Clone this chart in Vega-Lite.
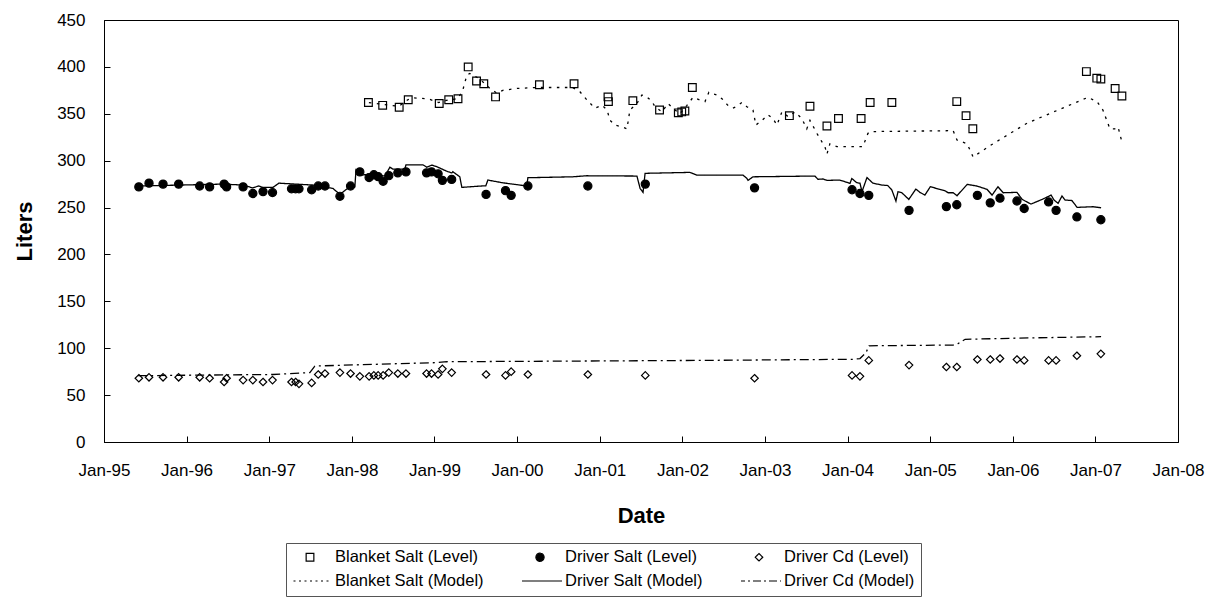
{
  "$schema": "https://vega.github.io/schema/vega-lite/v6.json",
  "width": 1074,
  "height": 422,
  "autosize": "none",
  "padding": {"left": 104, "top": 20, "right": 38, "bottom": 160},
  "background": "white",
  "config": {
    "font": "Liberation Sans",
    "view": {"stroke": "black", "strokeWidth": 1},
    "axis": {
      "grid": false,
      "domainColor": "black",
      "domainWidth": 1,
      "tickColor": "black",
      "tickWidth": 1,
      "tickSize": -6,
      "labelColor": "black",
      "labelFont": "Liberation Sans",
      "labelFontSize": 17,
      "titleFont": "Liberation Sans",
      "titleFontSize": 22,
      "titleFontWeight": "bold",
      "titleColor": "black"
    },
    "legend": {
      "title": null,
      "orient": "none",
      "legendX": 182,
      "legendY": 523,
      "direction": "horizontal",
      "columns": 3,
      "gridAlign": "each",
      "columnPadding": 38,
      "rowPadding": 7,
      "clipHeight": 16,
      "padding": 6,
      "strokeColor": "#555555",
      "fillColor": "white",
      "symbolSize": 1936,
      "symbolStrokeColor": "black",
      "symbolStrokeWidth": 1.2,
      "symbolOffset": -5,
      "labelOffset": 2,
      "labelFont": "Liberation Sans",
      "labelFontSize": 16.5,
      "labelColor": "black"
    }
  },
  "datasets": {
    "levels": [
      {"level": "Blanket Salt (Level)", "date": "1998-03-15", "liters": 362},
      {"level": "Blanket Salt (Level)", "date": "1998-05-17", "liters": 359},
      {"level": "Blanket Salt (Level)", "date": "1998-07-29", "liters": 357},
      {"level": "Blanket Salt (Level)", "date": "1998-09-07", "liters": 365},
      {"level": "Blanket Salt (Level)", "date": "1999-01-22", "liters": 361},
      {"level": "Blanket Salt (Level)", "date": "1999-03-05", "liters": 365},
      {"level": "Blanket Salt (Level)", "date": "1999-04-15", "liters": 366},
      {"level": "Blanket Salt (Level)", "date": "1999-05-30", "liters": 400},
      {"level": "Blanket Salt (Level)", "date": "1999-07-06", "liters": 385},
      {"level": "Blanket Salt (Level)", "date": "1999-08-07", "liters": 382},
      {"level": "Blanket Salt (Level)", "date": "1999-09-28", "liters": 368},
      {"level": "Blanket Salt (Level)", "date": "2000-04-09", "liters": 381},
      {"level": "Blanket Salt (Level)", "date": "2000-09-09", "liters": 382},
      {"level": "Blanket Salt (Level)", "date": "2001-02-06", "liters": 368},
      {"level": "Blanket Salt (Level)", "date": "2001-02-08", "liters": 363},
      {"level": "Blanket Salt (Level)", "date": "2001-05-27", "liters": 364},
      {"level": "Blanket Salt (Level)", "date": "2001-09-22", "liters": 354},
      {"level": "Blanket Salt (Level)", "date": "2001-12-14", "liters": 351},
      {"level": "Blanket Salt (Level)", "date": "2001-12-29", "liters": 352},
      {"level": "Blanket Salt (Level)", "date": "2002-01-12", "liters": 353},
      {"level": "Blanket Salt (Level)", "date": "2002-02-14", "liters": 378},
      {"level": "Blanket Salt (Level)", "date": "2003-04-19", "liters": 348},
      {"level": "Blanket Salt (Level)", "date": "2003-07-19", "liters": 358},
      {"level": "Blanket Salt (Level)", "date": "2003-10-02", "liters": 337},
      {"level": "Blanket Salt (Level)", "date": "2003-11-22", "liters": 345},
      {"level": "Blanket Salt (Level)", "date": "2004-03-01", "liters": 345},
      {"level": "Blanket Salt (Level)", "date": "2004-04-10", "liters": 362},
      {"level": "Blanket Salt (Level)", "date": "2004-07-15", "liters": 362},
      {"level": "Blanket Salt (Level)", "date": "2005-04-28", "liters": 363},
      {"level": "Blanket Salt (Level)", "date": "2005-06-08", "liters": 348},
      {"level": "Blanket Salt (Level)", "date": "2005-07-08", "liters": 334},
      {"level": "Blanket Salt (Level)", "date": "2006-11-22", "liters": 395},
      {"level": "Blanket Salt (Level)", "date": "2007-01-07", "liters": 388},
      {"level": "Blanket Salt (Level)", "date": "2007-01-25", "liters": 387},
      {"level": "Blanket Salt (Level)", "date": "2007-03-29", "liters": 377},
      {"level": "Blanket Salt (Level)", "date": "2007-04-28", "liters": 369},

      {"level": "Driver Salt (Level)", "date": "1995-06-04", "liters": 272},
      {"level": "Driver Salt (Level)", "date": "1995-07-19", "liters": 276},
      {"level": "Driver Salt (Level)", "date": "1995-09-19", "liters": 275},
      {"level": "Driver Salt (Level)", "date": "1995-11-27", "liters": 275},
      {"level": "Driver Salt (Level)", "date": "1996-02-28", "liters": 273},
      {"level": "Driver Salt (Level)", "date": "1996-04-12", "liters": 272},
      {"level": "Driver Salt (Level)", "date": "1996-06-15", "liters": 275},
      {"level": "Driver Salt (Level)", "date": "1996-06-26", "liters": 272},
      {"level": "Driver Salt (Level)", "date": "1996-09-07", "liters": 272},
      {"level": "Driver Salt (Level)", "date": "1996-10-20", "liters": 265},
      {"level": "Driver Salt (Level)", "date": "1996-12-04", "liters": 267},
      {"level": "Driver Salt (Level)", "date": "1997-01-15", "liters": 266},
      {"level": "Driver Salt (Level)", "date": "1997-04-09", "liters": 270},
      {"level": "Driver Salt (Level)", "date": "1997-04-27", "liters": 270},
      {"level": "Driver Salt (Level)", "date": "1997-05-12", "liters": 270},
      {"level": "Driver Salt (Level)", "date": "1997-07-07", "liters": 269},
      {"level": "Driver Salt (Level)", "date": "1997-08-05", "liters": 273},
      {"level": "Driver Salt (Level)", "date": "1997-09-04", "liters": 273},
      {"level": "Driver Salt (Level)", "date": "1997-11-09", "liters": 262},
      {"level": "Driver Salt (Level)", "date": "1997-12-26", "liters": 273},
      {"level": "Driver Salt (Level)", "date": "1998-02-05", "liters": 288},
      {"level": "Driver Salt (Level)", "date": "1998-03-18", "liters": 282},
      {"level": "Driver Salt (Level)", "date": "1998-04-08", "liters": 285},
      {"level": "Driver Salt (Level)", "date": "1998-04-27", "liters": 283},
      {"level": "Driver Salt (Level)", "date": "1998-05-19", "liters": 278},
      {"level": "Driver Salt (Level)", "date": "1998-06-13", "liters": 284},
      {"level": "Driver Salt (Level)", "date": "1998-07-23", "liters": 287},
      {"level": "Driver Salt (Level)", "date": "1998-08-28", "liters": 288},
      {"level": "Driver Salt (Level)", "date": "1998-11-27", "liters": 287},
      {"level": "Driver Salt (Level)", "date": "1998-12-19", "liters": 288},
      {"level": "Driver Salt (Level)", "date": "1999-01-17", "liters": 286},
      {"level": "Driver Salt (Level)", "date": "1999-02-05", "liters": 279},
      {"level": "Driver Salt (Level)", "date": "1999-03-18", "liters": 280},
      {"level": "Driver Salt (Level)", "date": "1999-08-17", "liters": 264},
      {"level": "Driver Salt (Level)", "date": "1999-11-11", "liters": 268},
      {"level": "Driver Salt (Level)", "date": "1999-12-06", "liters": 263},
      {"level": "Driver Salt (Level)", "date": "2000-02-18", "liters": 273},
      {"level": "Driver Salt (Level)", "date": "2000-11-09", "liters": 273},
      {"level": "Driver Salt (Level)", "date": "2001-07-21", "liters": 275},
      {"level": "Driver Salt (Level)", "date": "2002-11-16", "liters": 271},
      {"level": "Driver Salt (Level)", "date": "2004-01-21", "liters": 269},
      {"level": "Driver Salt (Level)", "date": "2004-02-25", "liters": 265},
      {"level": "Driver Salt (Level)", "date": "2004-04-04", "liters": 263},
      {"level": "Driver Salt (Level)", "date": "2004-09-29", "liters": 247},
      {"level": "Driver Salt (Level)", "date": "2005-03-13", "liters": 251},
      {"level": "Driver Salt (Level)", "date": "2005-04-28", "liters": 253},
      {"level": "Driver Salt (Level)", "date": "2005-07-28", "liters": 263},
      {"level": "Driver Salt (Level)", "date": "2005-09-23", "liters": 255},
      {"level": "Driver Salt (Level)", "date": "2005-11-05", "liters": 260},
      {"level": "Driver Salt (Level)", "date": "2006-01-19", "liters": 257},
      {"level": "Driver Salt (Level)", "date": "2006-02-20", "liters": 249},
      {"level": "Driver Salt (Level)", "date": "2006-06-08", "liters": 256},
      {"level": "Driver Salt (Level)", "date": "2006-07-11", "liters": 247},
      {"level": "Driver Salt (Level)", "date": "2006-10-11", "liters": 240},
      {"level": "Driver Salt (Level)", "date": "2007-01-25", "liters": 237},

      {"level": "Driver Cd (Level)", "date": "1995-06-04", "liters": 68},
      {"level": "Driver Cd (Level)", "date": "1995-07-19", "liters": 69},
      {"level": "Driver Cd (Level)", "date": "1995-09-19", "liters": 69},
      {"level": "Driver Cd (Level)", "date": "1995-11-27", "liters": 69},
      {"level": "Driver Cd (Level)", "date": "1996-02-28", "liters": 69},
      {"level": "Driver Cd (Level)", "date": "1996-04-12", "liters": 68},
      {"level": "Driver Cd (Level)", "date": "1996-06-15", "liters": 64},
      {"level": "Driver Cd (Level)", "date": "1996-06-26", "liters": 68},
      {"level": "Driver Cd (Level)", "date": "1996-09-07", "liters": 66},
      {"level": "Driver Cd (Level)", "date": "1996-10-20", "liters": 66},
      {"level": "Driver Cd (Level)", "date": "1996-12-04", "liters": 64},
      {"level": "Driver Cd (Level)", "date": "1997-01-15", "liters": 66},
      {"level": "Driver Cd (Level)", "date": "1997-04-09", "liters": 64},
      {"level": "Driver Cd (Level)", "date": "1997-04-27", "liters": 64},
      {"level": "Driver Cd (Level)", "date": "1997-05-12", "liters": 62},
      {"level": "Driver Cd (Level)", "date": "1997-07-07", "liters": 63},
      {"level": "Driver Cd (Level)", "date": "1997-08-05", "liters": 72},
      {"level": "Driver Cd (Level)", "date": "1997-09-04", "liters": 73},
      {"level": "Driver Cd (Level)", "date": "1997-11-09", "liters": 74},
      {"level": "Driver Cd (Level)", "date": "1997-12-26", "liters": 73},
      {"level": "Driver Cd (Level)", "date": "1998-02-05", "liters": 70},
      {"level": "Driver Cd (Level)", "date": "1998-03-18", "liters": 70},
      {"level": "Driver Cd (Level)", "date": "1998-04-08", "liters": 71},
      {"level": "Driver Cd (Level)", "date": "1998-04-27", "liters": 71},
      {"level": "Driver Cd (Level)", "date": "1998-05-19", "liters": 71},
      {"level": "Driver Cd (Level)", "date": "1998-06-13", "liters": 74},
      {"level": "Driver Cd (Level)", "date": "1998-07-23", "liters": 73},
      {"level": "Driver Cd (Level)", "date": "1998-08-28", "liters": 73},
      {"level": "Driver Cd (Level)", "date": "1998-11-27", "liters": 73},
      {"level": "Driver Cd (Level)", "date": "1998-12-19", "liters": 73},
      {"level": "Driver Cd (Level)", "date": "1999-01-17", "liters": 72},
      {"level": "Driver Cd (Level)", "date": "1999-02-05", "liters": 78},
      {"level": "Driver Cd (Level)", "date": "1999-03-18", "liters": 74},
      {"level": "Driver Cd (Level)", "date": "1999-08-17", "liters": 72},
      {"level": "Driver Cd (Level)", "date": "1999-11-11", "liters": 71},
      {"level": "Driver Cd (Level)", "date": "1999-12-06", "liters": 75},
      {"level": "Driver Cd (Level)", "date": "2000-02-18", "liters": 72},
      {"level": "Driver Cd (Level)", "date": "2000-11-09", "liters": 72},
      {"level": "Driver Cd (Level)", "date": "2001-07-21", "liters": 71},
      {"level": "Driver Cd (Level)", "date": "2002-11-16", "liters": 68},
      {"level": "Driver Cd (Level)", "date": "2004-01-21", "liters": 71},
      {"level": "Driver Cd (Level)", "date": "2004-02-25", "liters": 70},
      {"level": "Driver Cd (Level)", "date": "2004-04-04", "liters": 87},
      {"level": "Driver Cd (Level)", "date": "2004-09-29", "liters": 82},
      {"level": "Driver Cd (Level)", "date": "2005-03-13", "liters": 80},
      {"level": "Driver Cd (Level)", "date": "2005-04-28", "liters": 80},
      {"level": "Driver Cd (Level)", "date": "2005-07-28", "liters": 88},
      {"level": "Driver Cd (Level)", "date": "2005-09-23", "liters": 88},
      {"level": "Driver Cd (Level)", "date": "2005-11-05", "liters": 89},
      {"level": "Driver Cd (Level)", "date": "2006-01-19", "liters": 88},
      {"level": "Driver Cd (Level)", "date": "2006-02-20", "liters": 87},
      {"level": "Driver Cd (Level)", "date": "2006-06-08", "liters": 87},
      {"level": "Driver Cd (Level)", "date": "2006-07-11", "liters": 87},
      {"level": "Driver Cd (Level)", "date": "2006-10-11", "liters": 92},
      {"level": "Driver Cd (Level)", "date": "2007-01-25", "liters": 94}
    ],
    "model": [
      {"model": "Blanket Salt (Model)", "date": "1998-03-17", "liters": 362},
      {"model": "Blanket Salt (Model)", "date": "1998-05-18", "liters": 360},
      {"model": "Blanket Salt (Model)", "date": "1998-07-28", "liters": 358},
      {"model": "Blanket Salt (Model)", "date": "1998-09-05", "liters": 365},
      {"model": "Blanket Salt (Model)", "date": "1998-09-27", "liters": 367},
      {"model": "Blanket Salt (Model)", "date": "1998-12-03", "liters": 366},
      {"model": "Blanket Salt (Model)", "date": "1999-01-20", "liters": 362},
      {"model": "Blanket Salt (Model)", "date": "1999-03-06", "liters": 365},
      {"model": "Blanket Salt (Model)", "date": "1999-04-14", "liters": 366},
      {"model": "Blanket Salt (Model)", "date": "1999-05-06", "liters": 375},
      {"model": "Blanket Salt (Model)", "date": "1999-05-24", "liters": 391},
      {"model": "Blanket Salt (Model)", "date": "1999-06-06", "liters": 393},
      {"model": "Blanket Salt (Model)", "date": "1999-07-07", "liters": 389},
      {"model": "Blanket Salt (Model)", "date": "1999-08-03", "liters": 384},
      {"model": "Blanket Salt (Model)", "date": "1999-09-03", "liters": 377},
      {"model": "Blanket Salt (Model)", "date": "1999-10-04", "liters": 372},
      {"model": "Blanket Salt (Model)", "date": "1999-10-30", "liters": 375},
      {"model": "Blanket Salt (Model)", "date": "2000-01-01", "liters": 377},
      {"model": "Blanket Salt (Model)", "date": "2000-03-28", "liters": 378},
      {"model": "Blanket Salt (Model)", "date": "2000-09-03", "liters": 378},
      {"model": "Blanket Salt (Model)", "date": "2000-10-05", "liters": 373.5},
      {"model": "Blanket Salt (Model)", "date": "2000-11-04", "liters": 365},
      {"model": "Blanket Salt (Model)", "date": "2000-12-10", "liters": 356},
      {"model": "Blanket Salt (Model)", "date": "2001-01-11", "liters": 359},
      {"model": "Blanket Salt (Model)", "date": "2001-02-02", "liters": 354},
      {"model": "Blanket Salt (Model)", "date": "2001-02-15", "liters": 343},
      {"model": "Blanket Salt (Model)", "date": "2001-03-09", "liters": 338},
      {"model": "Blanket Salt (Model)", "date": "2001-04-09", "liters": 336},
      {"model": "Blanket Salt (Model)", "date": "2001-05-01", "liters": 334},
      {"model": "Blanket Salt (Model)", "date": "2001-05-14", "liters": 354},
      {"model": "Blanket Salt (Model)", "date": "2001-06-14", "liters": 361},
      {"model": "Blanket Salt (Model)", "date": "2001-07-06", "liters": 370},
      {"model": "Blanket Salt (Model)", "date": "2001-07-28", "liters": 368},
      {"model": "Blanket Salt (Model)", "date": "2001-08-20", "liters": 363},
      {"model": "Blanket Salt (Model)", "date": "2001-09-02", "liters": 357.5},
      {"model": "Blanket Salt (Model)", "date": "2001-10-03", "liters": 352},
      {"model": "Blanket Salt (Model)", "date": "2001-10-29", "liters": 361},
      {"model": "Blanket Salt (Model)", "date": "2001-11-20", "liters": 356},
      {"model": "Blanket Salt (Model)", "date": "2001-12-21", "liters": 350},
      {"model": "Blanket Salt (Model)", "date": "2002-01-21", "liters": 359},
      {"model": "Blanket Salt (Model)", "date": "2002-02-17", "liters": 367.5},
      {"model": "Blanket Salt (Model)", "date": "2002-03-20", "liters": 364.6},
      {"model": "Blanket Salt (Model)", "date": "2002-04-11", "liters": 363},
      {"model": "Blanket Salt (Model)", "date": "2002-04-28", "liters": 373},
      {"model": "Blanket Salt (Model)", "date": "2002-06-03", "liters": 370},
      {"model": "Blanket Salt (Model)", "date": "2002-06-25", "liters": 366},
      {"model": "Blanket Salt (Model)", "date": "2002-07-21", "liters": 359},
      {"model": "Blanket Salt (Model)", "date": "2002-08-12", "liters": 356},
      {"model": "Blanket Salt (Model)", "date": "2002-08-30", "liters": 358},
      {"model": "Blanket Salt (Model)", "date": "2002-09-21", "liters": 362},
      {"model": "Blanket Salt (Model)", "date": "2002-10-13", "liters": 357.5},
      {"model": "Blanket Salt (Model)", "date": "2002-11-09", "liters": 354},
      {"model": "Blanket Salt (Model)", "date": "2002-11-22", "liters": 338},
      {"model": "Blanket Salt (Model)", "date": "2002-12-19", "liters": 343},
      {"model": "Blanket Salt (Model)", "date": "2003-01-14", "liters": 349},
      {"model": "Blanket Salt (Model)", "date": "2003-02-05", "liters": 345},
      {"model": "Blanket Salt (Model)", "date": "2003-02-23", "liters": 338},
      {"model": "Blanket Salt (Model)", "date": "2003-03-17", "liters": 352},
      {"model": "Blanket Salt (Model)", "date": "2003-04-13", "liters": 347},
      {"model": "Blanket Salt (Model)", "date": "2003-05-14", "liters": 352},
      {"model": "Blanket Salt (Model)", "date": "2003-06-13", "liters": 345},
      {"model": "Blanket Salt (Model)", "date": "2003-07-05", "liters": 334},
      {"model": "Blanket Salt (Model)", "date": "2003-07-19", "liters": 343},
      {"model": "Blanket Salt (Model)", "date": "2003-08-19", "liters": 329},
      {"model": "Blanket Salt (Model)", "date": "2003-09-10", "liters": 320},
      {"model": "Blanket Salt (Model)", "date": "2003-09-23", "liters": 315},
      {"model": "Blanket Salt (Model)", "date": "2003-10-02", "liters": 307},
      {"model": "Blanket Salt (Model)", "date": "2003-10-15", "liters": 318},
      {"model": "Blanket Salt (Model)", "date": "2003-11-15", "liters": 315},
      {"model": "Blanket Salt (Model)", "date": "2004-03-09", "liters": 315},
      {"model": "Blanket Salt (Model)", "date": "2004-03-31", "liters": 329},
      {"model": "Blanket Salt (Model)", "date": "2004-04-09", "liters": 331},
      {"model": "Blanket Salt (Model)", "date": "2005-04-12", "liters": 332},
      {"model": "Blanket Salt (Model)", "date": "2005-04-29", "liters": 322},
      {"model": "Blanket Salt (Model)", "date": "2005-06-13", "liters": 318},
      {"model": "Blanket Salt (Model)", "date": "2005-07-09", "liters": 304},
      {"model": "Blanket Salt (Model)", "date": "2005-10-05", "liters": 318},
      {"model": "Blanket Salt (Model)", "date": "2006-03-05", "liters": 340},
      {"model": "Blanket Salt (Model)", "date": "2006-11-29", "liters": 367.5},
      {"model": "Blanket Salt (Model)", "date": "2007-01-08", "liters": 363},
      {"model": "Blanket Salt (Model)", "date": "2007-02-03", "liters": 354},
      {"model": "Blanket Salt (Model)", "date": "2007-03-06", "liters": 334},
      {"model": "Blanket Salt (Model)", "date": "2007-03-28", "liters": 334},
      {"model": "Blanket Salt (Model)", "date": "2007-04-11", "liters": 336},
      {"model": "Blanket Salt (Model)", "date": "2007-04-28", "liters": 320},

      {"model": "Driver Salt (Model)", "date": "1995-06-04", "liters": 273},
      {"model": "Driver Salt (Model)", "date": "1996-06-09", "liters": 275},
      {"model": "Driver Salt (Model)", "date": "1996-09-05", "liters": 274},
      {"model": "Driver Salt (Model)", "date": "1996-10-19", "liters": 271},
      {"model": "Driver Salt (Model)", "date": "1996-11-15", "liters": 273},
      {"model": "Driver Salt (Model)", "date": "1996-12-03", "liters": 271.5},
      {"model": "Driver Salt (Model)", "date": "1997-01-17", "liters": 271.5},
      {"model": "Driver Salt (Model)", "date": "1997-02-12", "liters": 276},
      {"model": "Driver Salt (Model)", "date": "1997-07-13", "liters": 274},
      {"model": "Driver Salt (Model)", "date": "1997-10-09", "liters": 270.4},
      {"model": "Driver Salt (Model)", "date": "1997-11-09", "liters": 264},
      {"model": "Driver Salt (Model)", "date": "1997-12-10", "liters": 270},
      {"model": "Driver Salt (Model)", "date": "1998-01-14", "liters": 272},
      {"model": "Driver Salt (Model)", "date": "1998-01-19", "liters": 290},
      {"model": "Driver Salt (Model)", "date": "1998-02-05", "liters": 284.6},
      {"model": "Driver Salt (Model)", "date": "1998-04-04", "liters": 285.7},
      {"model": "Driver Salt (Model)", "date": "1998-05-27", "liters": 283.6},
      {"model": "Driver Salt (Model)", "date": "1998-06-18", "liters": 293},
      {"model": "Driver Salt (Model)", "date": "1998-07-01", "liters": 291},
      {"model": "Driver Salt (Model)", "date": "1998-08-23", "liters": 291},
      {"model": "Driver Salt (Model)", "date": "1998-08-28", "liters": 295.6},
      {"model": "Driver Salt (Model)", "date": "1998-11-11", "liters": 295.6},
      {"model": "Driver Salt (Model)", "date": "1998-11-28", "liters": 293},
      {"model": "Driver Salt (Model)", "date": "1998-12-20", "liters": 295.3},
      {"model": "Driver Salt (Model)", "date": "1999-01-12", "liters": 293.5},
      {"model": "Driver Salt (Model)", "date": "1999-03-01", "liters": 288.2},
      {"model": "Driver Salt (Model)", "date": "1999-03-19", "liters": 287},
      {"model": "Driver Salt (Model)", "date": "1999-03-23", "liters": 288.2},
      {"model": "Driver Salt (Model)", "date": "1999-04-23", "liters": 282.8},
      {"model": "Driver Salt (Model)", "date": "1999-05-02", "liters": 271.5},
      {"model": "Driver Salt (Model)", "date": "1999-07-20", "liters": 272.9},
      {"model": "Driver Salt (Model)", "date": "1999-08-16", "liters": 273.2},
      {"model": "Driver Salt (Model)", "date": "1999-08-25", "liters": 279.3},
      {"model": "Driver Salt (Model)", "date": "1999-10-30", "liters": 276.4},
      {"model": "Driver Salt (Model)", "date": "2000-01-13", "liters": 274},
      {"model": "Driver Salt (Model)", "date": "2000-02-13", "liters": 273},
      {"model": "Driver Salt (Model)", "date": "2000-02-18", "liters": 281.8},
      {"model": "Driver Salt (Model)", "date": "2000-09-03", "liters": 282.8},
      {"model": "Driver Salt (Model)", "date": "2000-11-04", "liters": 283.9},
      {"model": "Driver Salt (Model)", "date": "2001-06-14", "liters": 283.6},
      {"model": "Driver Salt (Model)", "date": "2001-06-28", "liters": 270.4},
      {"model": "Driver Salt (Model)", "date": "2001-07-11", "liters": 266.2},
      {"model": "Driver Salt (Model)", "date": "2001-07-20", "liters": 286.5},
      {"model": "Driver Salt (Model)", "date": "2002-02-03", "liters": 287.5},
      {"model": "Driver Salt (Model)", "date": "2002-03-06", "liters": 284.6},
      {"model": "Driver Salt (Model)", "date": "2002-09-26", "liters": 284.6},
      {"model": "Driver Salt (Model)", "date": "2002-10-13", "liters": 281.1},
      {"model": "Driver Salt (Model)", "date": "2002-10-18", "liters": 279},
      {"model": "Driver Salt (Model)", "date": "2002-11-09", "liters": 282.8},
      {"model": "Driver Salt (Model)", "date": "2003-08-10", "liters": 283.6},
      {"model": "Driver Salt (Model)", "date": "2003-08-23", "liters": 280.1},
      {"model": "Driver Salt (Model)", "date": "2003-09-14", "liters": 280.5},
      {"model": "Driver Salt (Model)", "date": "2003-10-02", "liters": 279},
      {"model": "Driver Salt (Model)", "date": "2003-11-28", "liters": 279.3},
      {"model": "Driver Salt (Model)", "date": "2004-01-12", "liters": 275.8},
      {"model": "Driver Salt (Model)", "date": "2004-01-20", "liters": 281},
      {"model": "Driver Salt (Model)", "date": "2004-02-11", "liters": 276.5},
      {"model": "Driver Salt (Model)", "date": "2004-02-25", "liters": 276},
      {"model": "Driver Salt (Model)", "date": "2004-03-05", "liters": 267},
      {"model": "Driver Salt (Model)", "date": "2004-03-27", "liters": 282},
      {"model": "Driver Salt (Model)", "date": "2004-04-22", "liters": 276},
      {"model": "Driver Salt (Model)", "date": "2004-06-01", "liters": 274},
      {"model": "Driver Salt (Model)", "date": "2004-06-27", "liters": 273.5},
      {"model": "Driver Salt (Model)", "date": "2004-07-15", "liters": 268.7},
      {"model": "Driver Salt (Model)", "date": "2004-08-02", "liters": 256.9},
      {"model": "Driver Salt (Model)", "date": "2004-08-11", "liters": 266.8},
      {"model": "Driver Salt (Model)", "date": "2004-08-28", "liters": 265.8},
      {"model": "Driver Salt (Model)", "date": "2004-09-28", "liters": 258.7},
      {"model": "Driver Salt (Model)", "date": "2004-10-29", "liters": 269.7},
      {"model": "Driver Salt (Model)", "date": "2004-11-16", "liters": 266.2},
      {"model": "Driver Salt (Model)", "date": "2004-12-08", "liters": 263.3},
      {"model": "Driver Salt (Model)", "date": "2005-01-01", "liters": 272.2},
      {"model": "Driver Salt (Model)", "date": "2005-03-07", "liters": 267.9},
      {"model": "Driver Salt (Model)", "date": "2005-03-21", "liters": 265.8},
      {"model": "Driver Salt (Model)", "date": "2005-04-12", "liters": 265.8},
      {"model": "Driver Salt (Model)", "date": "2005-04-29", "liters": 262.6},
      {"model": "Driver Salt (Model)", "date": "2005-06-13", "liters": 274.7},
      {"model": "Driver Salt (Model)", "date": "2005-07-27", "liters": 272.9},
      {"model": "Driver Salt (Model)", "date": "2005-09-09", "liters": 269.4},
      {"model": "Driver Salt (Model)", "date": "2005-10-01", "liters": 263.3},
      {"model": "Driver Salt (Model)", "date": "2005-10-27", "liters": 272.2},
      {"model": "Driver Salt (Model)", "date": "2005-11-19", "liters": 265.8},
      {"model": "Driver Salt (Model)", "date": "2006-01-19", "liters": 266.2},
      {"model": "Driver Salt (Model)", "date": "2006-02-11", "liters": 258.7},
      {"model": "Driver Salt (Model)", "date": "2006-03-22", "liters": 253.7},
      {"model": "Driver Salt (Model)", "date": "2006-05-14", "liters": 259.1},
      {"model": "Driver Salt (Model)", "date": "2006-06-19", "liters": 263.3},
      {"model": "Driver Salt (Model)", "date": "2006-07-02", "liters": 258},
      {"model": "Driver Salt (Model)", "date": "2006-07-20", "liters": 254.5},
      {"model": "Driver Salt (Model)", "date": "2006-08-06", "liters": 262.3},
      {"model": "Driver Salt (Model)", "date": "2006-08-20", "liters": 258},
      {"model": "Driver Salt (Model)", "date": "2006-09-19", "liters": 257.5},
      {"model": "Driver Salt (Model)", "date": "2006-10-12", "liters": 250.2},
      {"model": "Driver Salt (Model)", "date": "2006-12-21", "liters": 250.9},
      {"model": "Driver Salt (Model)", "date": "2007-01-26", "liters": 249.8},

      {"model": "Driver Cd (Model)", "date": "1995-06-01", "liters": 70.7},
      {"model": "Driver Cd (Model)", "date": "1997-01-17", "liters": 72},
      {"model": "Driver Cd (Model)", "date": "1997-06-29", "liters": 74},
      {"model": "Driver Cd (Model)", "date": "1997-07-21", "liters": 81},
      {"model": "Driver Cd (Model)", "date": "1998-05-05", "liters": 83},
      {"model": "Driver Cd (Model)", "date": "1998-12-25", "liters": 84.5},
      {"model": "Driver Cd (Model)", "date": "1999-02-25", "liters": 85.6},
      {"model": "Driver Cd (Model)", "date": "2000-01-13", "liters": 86},
      {"model": "Driver Cd (Model)", "date": "2002-03-20", "liters": 87},
      {"model": "Driver Cd (Model)", "date": "2004-01-25", "liters": 88.2},
      {"model": "Driver Cd (Model)", "date": "2004-02-25", "liters": 89},
      {"model": "Driver Cd (Model)", "date": "2004-03-22", "liters": 95},
      {"model": "Driver Cd (Model)", "date": "2004-04-05", "liters": 102.6},
      {"model": "Driver Cd (Model)", "date": "2005-04-12", "liters": 103.4},
      {"model": "Driver Cd (Model)", "date": "2005-05-04", "liters": 105},
      {"model": "Driver Cd (Model)", "date": "2005-06-04", "liters": 109.5},
      {"model": "Driver Cd (Model)", "date": "2006-03-18", "liters": 111},
      {"model": "Driver Cd (Model)", "date": "2007-01-26", "liters": 112.3}
    ]
  },
  "encoding": {
    "x": {
      "field": "date",
      "type": "temporal",
      "scale": {
        "type": "utc",
        "domain": [
          {"year": 1995, "month": 1, "date": 1, "utc": true},
          {"year": 2008, "month": 1, "date": 1, "utc": true}
        ],
        "nice": false
      },
      "axis": {
        "title": "Date",
        "format": "%b-%y",
        "tickCount": {"interval": "year", "step": 1},
        "labelPadding": 26,
        "titlePadding": 27,
        "labelFlush": false,
        "labelOverlap": false
      }
    },
    "y": {
      "field": "liters",
      "type": "quantitative",
      "scale": {"domain": [0, 450], "nice": false},
      "axis": {
        "title": "Liters",
        "values": [0, 50, 100, 150, 200, 250, 300, 350, 400, 450],
        "labelPadding": 25,
        "titlePadding": 20
      }
    }
  },
  "layer": [
    {
      "data": {"name": "model"},
      "mark": {"type": "line", "stroke": "black", "strokeWidth": 1.3, "interpolate": "linear"},
      "encoding": {
        "strokeDash": {
          "field": "model",
          "type": "nominal",
          "scale": {
            "domain": ["Blanket Salt (Model)", "Driver Salt (Model)", "Driver Cd (Model)"],
            "range": [[2.5, 5.5], [1, 0], [9, 4, 2, 4]]
          },
          "legend": null
        }
      }
    },
    {
      "data": {"name": "levels"},
      "mark": {"type": "point", "size": 1936, "stroke": "black", "strokeWidth": 1.2, "opacity": 1},
      "encoding": {
        "shape": {
          "field": "level",
          "type": "nominal",
          "scale": {
            "domain": ["Blanket Salt (Level)", "Driver Salt (Level)", "Driver Cd (Level)", "Blanket Salt (Model)", "Driver Salt (Model)", "Driver Cd (Model)"],
            "range": [
              "M-0.175,-0.175H0.175V0.175H-0.175Z",
              "M-0.185,0A0.185,0.185,0,1,0,0.185,0A0.185,0.185,0,1,0,-0.185,0Z",
              "M0,-0.17L0.17,0L0,0.17L-0.17,0Z",
              "M-1,0H1",
              "M-1,0H1",
              "M-1,0H1"
            ]
          },
          "legend": {
            "encoding": {
              "symbols": {
                "stroke": {"value": "black"},
                "strokeWidth": {"value": 1.2},
                "opacity": {"value": 1},
                "strokeDash": {"value": {"expr": "datum.value === 'Blanket Salt (Model)' ? [2, 3.5] : datum.value === 'Driver Cd (Model)' ? [8, 3, 2, 3] : [1, 0]"}}
              }
            }
          }
        },
        "fill": {
          "field": "level",
          "type": "nominal",
          "scale": {
            "domain": ["Blanket Salt (Level)", "Driver Salt (Level)", "Driver Cd (Level)", "Blanket Salt (Model)", "Driver Salt (Model)", "Driver Cd (Model)"],
            "range": ["transparent", "black", "transparent", "transparent", "transparent", "transparent"]
          },
          "legend": {
            "encoding": {
              "symbols": {
                "stroke": {"value": "black"},
                "strokeWidth": {"value": 1.2},
                "opacity": {"value": 1},
                "strokeDash": {"value": {"expr": "datum.value === 'Blanket Salt (Model)' ? [2, 3.5] : datum.value === 'Driver Cd (Model)' ? [8, 3, 2, 3] : [1, 0]"}}
              }
            }
          }
        }
      }
    }
  ]
}
